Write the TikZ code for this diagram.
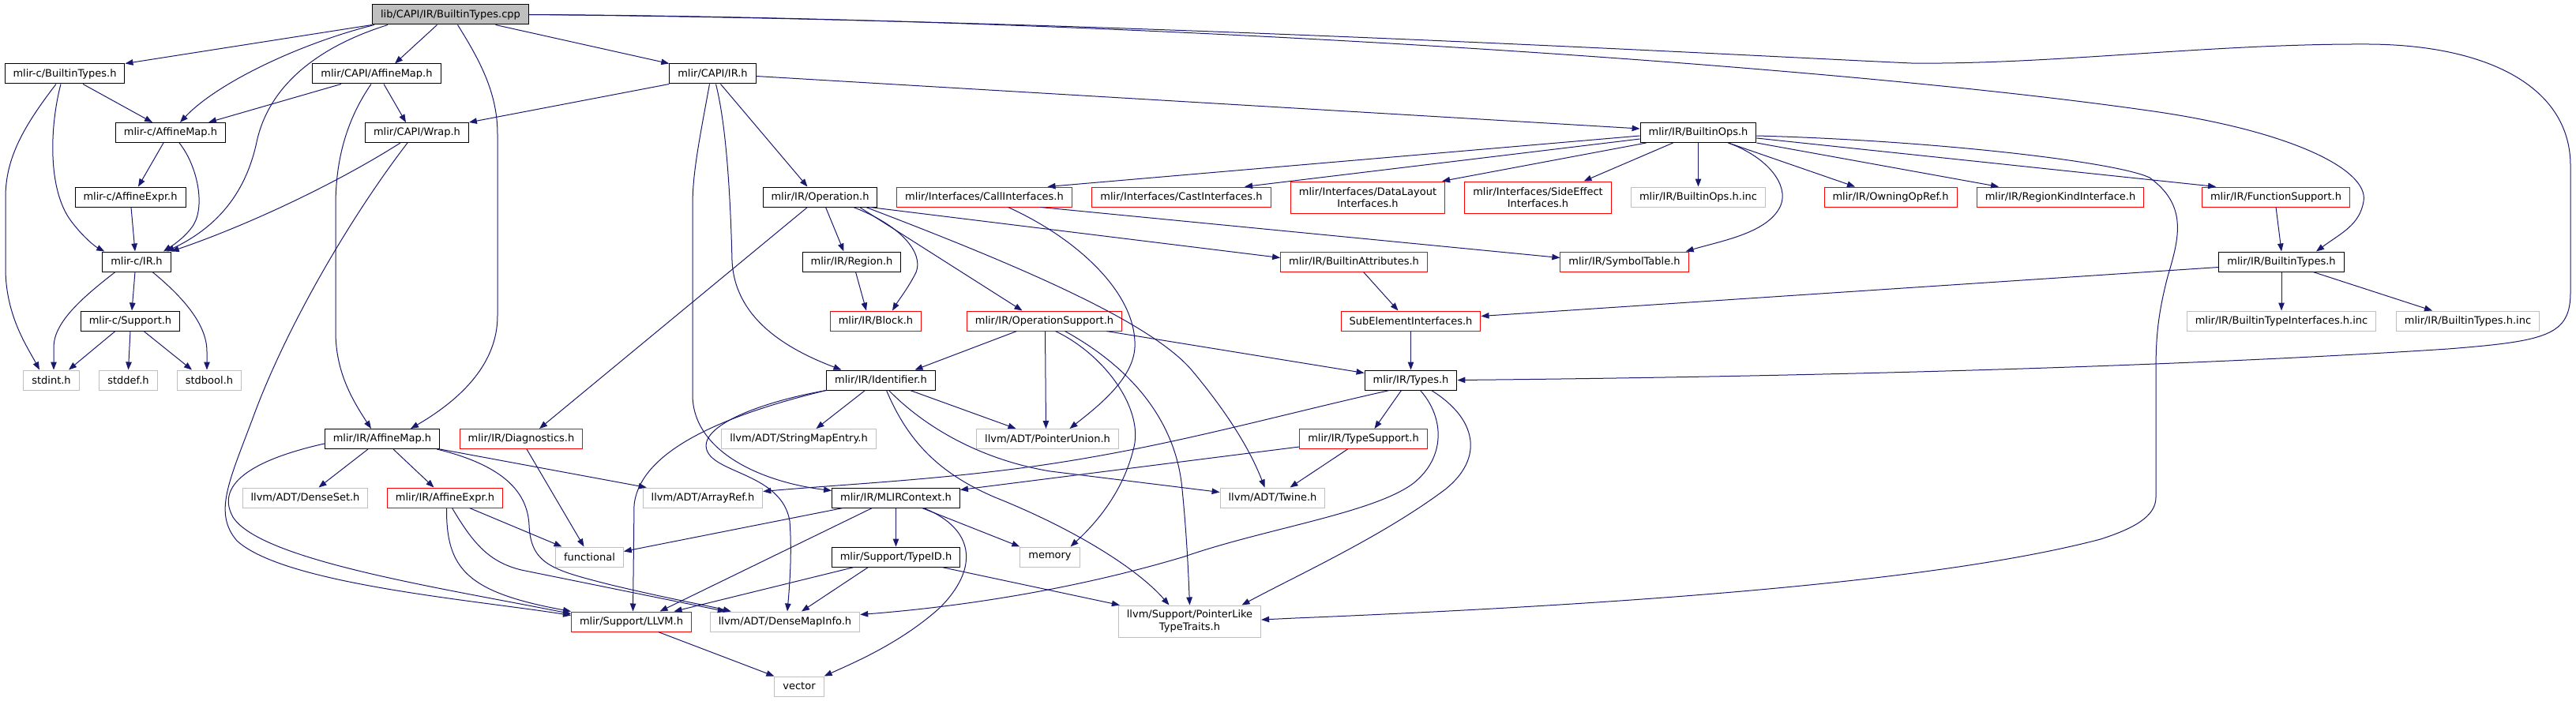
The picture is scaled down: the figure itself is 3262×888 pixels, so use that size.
\documentclass[tikz,border=0pt]{standalone}
\usepackage{fontspec}
\setmainfont{DejaVu Sans}
\usetikzlibrary{arrows.meta}
\definecolor{edgeblue}{HTML}{191970}
\definecolor{extgray}{HTML}{BFBFBF}
\definecolor{trunc}{HTML}{FF0000}

\begin{document}
\begin{tikzpicture}[
  x=1pt,
  y=-1pt,
  file/.style={draw=black, line width=1pt, rectangle, inner xsep=10.5pt, inner ysep=0pt, minimum height=25pt, align=center, font=\fontsize{13}{15.5}\selectfont},
  srcfile/.style={file, fill=extgray},
  truncfile/.style={file, draw=trunc},
  extfile/.style={file, draw=extgray},
  tallfile/.style={minimum height=40pt},
  dep/.style={draw=edgeblue, line width=1pt, -{Triangle[length=10pt,width=7.5pt]}}
]
  \useasboundingbox (0,0) rectangle (3262,888);

  \node[srcfile] (root) at (570.5,18.5) {lib/CAPI/IR/BuiltinTypes.cpp};
  \node[file] (cBT) at (82,93.5) {mlir-c/BuiltinTypes.h};
  \node[file] (capiAM) at (477,93.5) {mlir/CAPI/AffineMap.h};
  \node[file] (capiIR) at (902.5,93.5) {mlir/CAPI/IR.h};
  \node[file] (cAM) at (216,168) {mlir-c/AffineMap.h};
  \node[file] (wrap) at (528,168) {mlir/CAPI/Wrap.h};
  \node[file] (bops) at (2150.5,168) {mlir/IR/BuiltinOps.h};
  \node[file] (cAE) at (165,249.5) {mlir-c/AffineExpr.h};
  \node[file] (oper) at (1038.5,249.5) {mlir/IR/Operation.h};
  \node[truncfile] (callif) at (1246.5,249.5) {mlir/Interfaces/CallInterfaces.h};
  \node[truncfile] (castif) at (1496,249.5) {mlir/Interfaces/CastInterfaces.h};
  \node[truncfile,tallfile] (dlif) at (1732,250) {mlir/Interfaces/DataLayout\\Interfaces.h};
  \node[truncfile,tallfile] (seif) at (1947.5,250) {mlir/Interfaces/SideEffect\\Interfaces.h};
  \node[extfile] (bopsinc) at (2150.5,249.5) {mlir/IR/BuiltinOps.h.inc};
  \node[truncfile] (owning) at (2394,249.5) {mlir/IR/OwningOpRef.h};
  \node[truncfile] (rkif) at (2609,249.5) {mlir/IR/RegionKindInterface.h};
  \node[truncfile] (funcsup) at (2882,249.5) {mlir/IR/FunctionSupport.h};
  \node[file] (cIR) at (173,331.5) {mlir-c/IR.h};
  \node[file] (region) at (1078.5,331.5) {mlir/IR/Region.h};
  \node[truncfile] (battr) at (1714.5,331.5) {mlir/IR/BuiltinAttributes.h};
  \node[truncfile] (symtab) at (2057,331.5) {mlir/IR/SymbolTable.h};
  \node[file] (btypes) at (2889,331.5) {mlir/IR/BuiltinTypes.h};
  \node[file] (cSup) at (165,406.5) {mlir-c/Support.h};
  \node[truncfile] (block) at (1109,406.5) {mlir/IR/Block.h};
  \node[truncfile] (opsup) at (1322.5,406.5) {mlir/IR/OperationSupport.h};
  \node[truncfile] (subel) at (1786.5,406.5) {SubElementInterfaces.h};
  \node[extfile] (btiinc) at (2889,406.5) {mlir/IR/BuiltinTypeInterfaces.h.inc};
  \node[extfile] (btinc) at (3125,406.5) {mlir/IR/BuiltinTypes.h.inc};
  \node[extfile] (stdint) at (65,481.5) {stdint.h};
  \node[extfile] (stddef) at (162.5,481.5) {stddef.h};
  \node[extfile] (stdbool) at (265,481.5) {stdbool.h};
  \node[file] (ident) at (1115.5,481.5) {mlir/IR/Identifier.h};
  \node[file] (types) at (1786.5,481.5) {mlir/IR/Types.h};
  \node[file] (irAM) at (484,556) {mlir/IR/AffineMap.h};
  \node[truncfile] (diag) at (660,556) {mlir/IR/Diagnostics.h};
  \node[extfile] (smap) at (1011.5,556) {llvm/ADT/StringMapEntry.h};
  \node[extfile] (punion) at (1326.5,556) {llvm/ADT/PointerUnion.h};
  \node[truncfile] (tsup) at (1726.5,556) {mlir/IR/TypeSupport.h};
  \node[extfile] (dset) at (386.5,630.5) {llvm/ADT/DenseSet.h};
  \node[truncfile] (irAE) at (563.5,630.5) {mlir/IR/AffineExpr.h};
  \node[extfile] (aref) at (890,630.5) {llvm/ADT/ArrayRef.h};
  \node[file] (ctx) at (1134.5,630.5) {mlir/IR/MLIRContext.h};
  \node[extfile] (twine) at (1611.5,630.5) {llvm/ADT/Twine.h};
  \node[extfile] (func) at (746.5,705.5) {functional};
  \node[file] (typeid) at (1134.5,705.5) {mlir/Support/TypeID.h};
  \node[extfile] (memory) at (1329.5,705.5) {memory};
  \node[truncfile] (llvmh) at (799.5,787.5) {mlir/Support/LLVM.h};
  \node[extfile] (dmi) at (994,787.5) {llvm/ADT/DenseMapInfo.h};
  \node[extfile,tallfile] (plike) at (1506.5,787) {llvm/Support/PointerLike\\TypeTraits.h};
  \node[extfile] (vector) at (1012,869.5) {vector};

  \draw[dep] (root.south west) -- (cBT.north east);
  \draw[dep] ([xshift=3pt]root.south west) .. controls (380,55) and (275,105) .. ([xshift=12pt]cAM.north);
  \draw[dep] ([xshift=20pt]root.south west) .. controls (400,60) and (340,110) .. (325,180) .. controls (310,250) and (270,290) .. ([xshift=-6pt]cIR.north east);
  \draw[dep] ([xshift=-17pt]root.south) -- ([xshift=23pt]capiAM.north);
  \draw[dep] ([xshift=57pt]root.south) -- (capiIR.north west);
  \draw[dep] ([xshift=9pt]root.south) .. controls (610,80) and (630,120) .. (630,170) -- (630,400) .. controls (630,460) and (585,505) .. ([xshift=36pt]irAM.north);
  \draw[dep] (root.east) .. controls (1400,22) and (2300,80) .. (2720,140) .. controls (2900,165) and (3000,215) .. (2993,255) .. controls (2988,285) and (2965,295) .. ([xshift=44pt]btypes.north);
  \draw[dep] (root.east) .. controls (1400,25) and (2200,70) .. (2420,80) .. controls (2600,82) and (2800,55) .. (3000,56) .. controls (3150,57) and (3255,110) .. (3255,210) -- (3255,370) .. controls (3255,425) and (3225,432) .. (3100,442) .. controls (2700,468) and (2200,478) .. (types.east);

  \draw[dep] ([xshift=-45pt]capiAM.south) -- ([xshift=48pt]cAM.north);
  \draw[dep] ([xshift=9pt]capiAM.south) -- ([xshift=-14pt]wrap.north);
  \draw[dep] ([xshift=-7pt]capiAM.south) .. controls (440,150) and (425,200) .. (425,260) -- (425,420) .. controls (425,470) and (445,505) .. ([xshift=-14pt]irAM.north);

  \draw[dep] (capiIR.south west) -- (wrap.north east);
  \draw[dep] ([xshift=10pt]capiIR.south) -- ([xshift=-16pt]oper.north);
  \draw[dep] ([yshift=-3pt]capiIR.east) -- ([yshift=5pt]bops.west);
  \draw[dep] ([xshift=4pt]capiIR.south) .. controls (920,160) and (925,250) .. (927,330) .. controls (930,400) and (990,440) .. ([xshift=-50pt]ident.north);
  \draw[dep] ([xshift=-4pt]capiIR.south) .. controls (885,180) and (877,220) .. (877,260) -- (877,500) .. controls (877,570) and (960,610) .. ([yshift=9pt]ctx.west);

  \draw[dep] ([xshift=23pt]cBT.south) -- ([xshift=-23pt]cAM.north);
  \draw[dep] ([xshift=-5pt]cBT.south) .. controls (63,160) and (60,240) .. (90,280) .. controls (105,300) and (120,312) .. ([xshift=3pt]cIR.north west);
  \draw[dep] ([xshift=-11pt]cBT.south) .. controls (30,160) and (7,200) .. (7,250) -- (7,340) .. controls (7,400) and (35,440) .. ([xshift=-15pt]stdint.north);
  \draw[dep] ([xshift=-9pt]cAM.south) -- ([xshift=10pt]cAE.north);
  \draw[dep] ([xshift=11pt]cAM.south) .. controls (250,210) and (260,260) .. (245,285) .. controls (235,300) and (220,310) .. ([xshift=34pt]cIR.north);
  \draw[dep] ([xshift=1pt]cAE.south) -- ([xshift=-2pt]cIR.north);
  \draw[dep] ([xshift=-21pt]wrap.south) .. controls (430,230) and (320,283) .. (cIR.north east);
  \draw[dep] ([xshift=-12pt]wrap.south) .. controls (440,280) and (360,420) .. (320,530) .. controls (290,610) and (270,650) .. (300,685) .. controls (360,740) and (600,760) .. ([yshift=8pt]llvmh.west);
  \draw[dep] ([xshift=-27pt]cIR.south) .. controls (100,380) and (68,410) .. (68,440) -- ([xshift=3pt]stdint.north);
  \draw[dep] ([xshift=-2pt]cIR.south) -- ([xshift=2pt]cSup.north);
  \draw[dep] ([xshift=20pt]cIR.south) .. controls (230,375) and (262,410) .. (262,445) -- ([xshift=-3pt]stdbool.north);
  \draw[dep] ([xshift=-19pt]cSup.south) -- ([xshift=22pt]stdint.north);
  \draw[dep] (cSup.south) -- (stddef.north);
  \draw[dep] ([xshift=17pt]cSup.south) -- ([xshift=-22pt]stdbool.north);

  \draw[dep] ([yshift=-6pt]irAM.west) .. controls (330,580) and (270,610) .. (295,655) .. controls (330,710) and (560,745) .. ([yshift=10pt]llvmh.west);
  \draw[dep] ([xshift=-18pt]irAM.south) -- ([xshift=17pt]dset.north);
  \draw[dep] ([xshift=14pt]irAM.south) -- ([xshift=-14pt]irAE.north);
  \draw[dep] (irAM.south east) -- ([xshift=5pt]aref.north west);
  \draw[dep] ([xshift=-4pt]irAM.south east) .. controls (640,590) and (668,625) .. (670,665) .. controls (672,715) and (700,722) .. (770,740) .. controls (840,757) and (900,768) .. ([xshift=27pt]dmi.north west);
  \draw[dep] ([xshift=31pt]irAE.south) -- ([xshift=-35pt]func.north);
  \draw[dep] ([xshift=2pt]irAE.south) .. controls (565,720) and (590,750) .. (llvmh.north west);
  \draw[dep] ([xshift=9pt]irAE.south) .. controls (600,690) and (620,712) .. (660,722) -- ([xshift=20pt]dmi.north west);
  \draw[dep] ([xshift=7pt]diag.south) -- ([xshift=-7pt]func.north);

  \draw[dep] ([xshift=-16pt]oper.south) -- ([xshift=23pt]diag.north);
  \draw[dep] ([xshift=7pt]oper.south) -- ([xshift=-10pt]region.north);
  \draw[dep] ([xshift=42pt]oper.south) .. controls (1140,285) and (1170,320) .. (1160,345) .. controls (1150,365) and (1138,380) .. ([xshift=21pt]block.north);
  \draw[dep] ([xshift=50pt]oper.south) -- ([xshift=-28pt]opsup.north);
  \draw[dep] ([xshift=-10pt]oper.south east) -- ([yshift=5pt]battr.west);
  \draw[dep] ([xshift=-15pt]oper.south east) .. controls (1300,340) and (1460,410) .. (1510,470) .. controls (1560,530) and (1585,575) .. ([xshift=-10pt]twine.north);
  \draw[dep] ([xshift=5pt]region.south) -- ([xshift=-12pt]block.north);

  \draw[dep] ([xshift=-35pt]opsup.south) -- ([xshift=43pt]ident.north);
  \draw[dep] ([xshift=1pt]opsup.south) -- ([xshift=-2pt]punion.north);
  \draw[dep] ([xshift=14pt]opsup.south) .. controls (1400,450) and (1450,520) .. (1435,570) .. controls (1420,630) and (1380,670) .. ([xshift=26pt]memory.north);
  \draw[dep] ([xshift=26pt]opsup.south) .. controls (1440,470) and (1490,540) .. (1497,620) .. controls (1503,680) and (1505,730) .. (plike.north);
  \draw[dep] ([xshift=-20pt]opsup.south east) -- ([yshift=9pt]types.west);

  \draw[dep] ([xshift=-20pt]ident.south) -- ([xshift=22pt]smap.north);
  \draw[dep] ([xshift=37pt]ident.south) -- ([xshift=-40pt]punion.north);
  \draw[dep] ([xshift=10pt]ident.south) .. controls (1170,540) and (1240,582) .. (1330,597) -- ([yshift=7pt]twine.west);
  \draw[dep] ([xshift=7pt]ident.south) .. controls (1150,560) and (1190,600) .. (1260,630) .. controls (1360,670) and (1440,720) .. ([xshift=-26pt]plike.north);
  \draw[dep] (ident.south west) .. controls (920,525) and (810,570) .. (803,640) -- ([xshift=2pt]llvmh.north);
  \draw[dep] (ident.south west) .. controls (960,510) and (885,540) .. (895,570) .. controls (905,600) and (990,600) .. (1000,660) .. controls (1003,700) and (1000,740) .. ([xshift=3pt]dmi.north);

  \draw[dep] ([xshift=-27pt]types.south) .. controls (1600,530) and (1450,575) .. (1260,597) .. controls (1150,610) and (1050,615) .. ([yshift=8pt]aref.east);
  \draw[dep] ([xshift=-12pt]types.south) -- ([xshift=14pt]tsup.north);
  \draw[dep] ([xshift=12pt]types.south) .. controls (1830,530) and (1830,580) .. (1790,612) .. controls (1740,650) and (1600,670) .. (1500,705) .. controls (1350,750) and (1200,770) .. ([yshift=9pt]dmi.east);
  \draw[dep] ([xshift=26pt]types.south) .. controls (1870,530) and (1880,580) .. (1830,620) .. controls (1750,680) and (1640,730) .. ([xshift=66pt]plike.north);
  \draw[dep] ([yshift=-10pt]tsup.west) -- ([yshift=10pt]ctx.east);
  \draw[dep] ([xshift=-20pt]tsup.south) -- ([xshift=22pt]twine.north);

  \draw[dep] (ctx) -- (typeid);
  \draw[dep] ([xshift=33pt]ctx.south) -- (memory.north west);
  \draw[dep] ([xshift=-67pt]ctx.south) -- ([yshift=7pt]func.east);
  \draw[dep] ([xshift=-30pt]ctx.south) -- ([xshift=36pt]llvmh.north);
  \draw[dep] ([xshift=35pt]ctx.south) .. controls (1235,670) and (1240,720) .. (1190,770) .. controls (1140,815) and (1080,840) .. (vector.north east);
  \draw[dep] ([xshift=-53pt]typeid.south) -- ([xshift=54pt]llvmh.north);
  \draw[dep] ([xshift=-35pt]typeid.south) -- ([xshift=21pt]dmi.north);
  \draw[dep] ([xshift=58pt]typeid.south) -- ([xshift=2pt]plike.north west);
  \draw[dep] ([xshift=34pt]llvmh.south) -- (vector.north west);

  \draw[dep] ([xshift=12pt]battr.south) -- ([xshift=-16pt]subel.north);
  \draw[dep] (subel) -- (types);
  \draw[dep] ([yshift=-7pt]btypes.west) -- ([yshift=6pt]subel.east);
  \draw[dep] (btypes) -- (btiinc);
  \draw[dep] ([xshift=40pt]btypes.south) -- ([xshift=-45pt]btinc.north);
  \draw[dep] (funcsup.south) -- (btypes.north);

  \draw[dep] ([yshift=-4pt]bops.west) -- ([xshift=80pt]callif.north);
  \draw[dep] ([yshift=-8pt]bops.west) -- ([xshift=80pt]castif.north);
  \draw[dep] ([xshift=8pt]bops.south west) -- ([xshift=-4pt]dlif.north east);
  \draw[dep] ([xshift=-32pt]bops.south) -- ([xshift=58pt]seif.north);
  \draw[dep] (bops) -- (bopsinc);
  \draw[dep] ([xshift=38pt]bops.south) .. controls (2240,200) and (2265,235) .. (2255,260) .. controls (2240,295) and (2180,305) .. ([xshift=-4pt]symtab.north east);
  \draw[dep] ([xshift=38pt]bops.south) -- ([xshift=-45pt]owning.north);
  \draw[dep] (bops.south east) -- ([xshift=-78pt]rkif.north);
  \draw[dep] ([yshift=-7pt]bops.east) -- ([xshift=18pt]funcsup.north west);
  \draw[dep] ([yshift=-4pt]bops.east) .. controls (2450,178) and (2680,205) .. (2722,225) .. controls (2770,260) and (2760,300) .. (2745,350) .. controls (2732,400) and (2730,430) .. (2730,470) -- (2730,630) .. controls (2730,655) and (2700,670) .. (2660,683) .. controls (2500,725) and (2200,760) .. (1640,783) -- ([yshift=2pt]plike.east);

  \draw[dep] ([xshift=71pt]callif.south) -- ([yshift=5pt]symtab.west);
  \draw[dep] ([xshift=30pt]callif.south) .. controls (1360,300) and (1440,370) .. (1437,440) .. controls (1435,480) and (1390,515) .. ([xshift=28pt]punion.north);
\end{tikzpicture}
\end{document}
